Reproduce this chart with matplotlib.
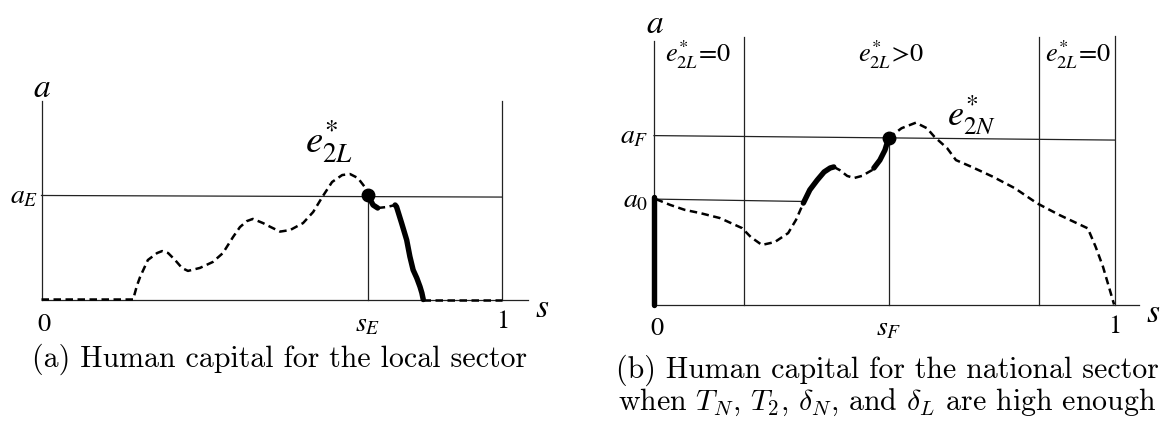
import matplotlib
matplotlib.use('Agg')
import matplotlib.pyplot as plt

# ---- data (s on [0, 1], a scaled to axis height) ----
# panel (a): local sector
local_dash1_s = [0, 0.199, 0.207, 0.214, 0.231, 0.251, 0.262, 0.275, 0.290, 0.305, 0.318,
                 0.344, 0.372, 0.394, 0.416, 0.431, 0.446, 0.459, 0.481, 0.496, 0.518,
                 0.540, 0.568, 0.590, 0.611, 0.631, 0.653, 0.670, 0.687, 0.702, 0.709]
local_dash1_a = [0, 0, 0.068, 0.113, 0.199, 0.234, 0.244, 0.234, 0.199, 0.159, 0.144,
                 0.159, 0.189, 0.234, 0.315, 0.365, 0.395, 0.406, 0.385, 0.367, 0.342,
                 0.350, 0.385, 0.441, 0.521, 0.592, 0.627, 0.632, 0.612, 0.567, 0.526]
local_thick1_s = [0.709, 0.720, 0.730]
local_thick1_a = [0.526, 0.476, 0.461]
local_dash2_s = [0.730, 0.750, 0.768]
local_dash2_a = [0.461, 0.466, 0.476]
local_thick2_s = [0.768, 0.771, 0.782, 0.793, 0.800, 0.807, 0.815, 0.822, 0.826, 0.829]
local_thick2_a = [0.476, 0.467, 0.385, 0.300, 0.216, 0.149, 0.108, 0.064, 0.033, 0.0]
local_dash3_s = [0.829, 1.0]
local_dash3_a = [0.0, 0.0]
a_E = [0.524, 0.516]
s_E = 0.709

# panel (b): national sector
nat_thick0_s = [0, 0]
nat_thick0_a = [0, 0.408]
nat_dash1_s = [0.004, 0.035, 0.067, 0.100, 0.143, 0.191, 0.210, 0.234, 0.262, 0.291, 0.308, 0.324]
nat_dash1_a = [0.400, 0.378, 0.359, 0.347, 0.328, 0.290, 0.256, 0.226, 0.237, 0.271, 0.321, 0.385]
nat_thick1_s = [0.324, 0.338, 0.354, 0.369, 0.382, 0.390]
nat_thick1_a = [0.385, 0.435, 0.472, 0.503, 0.518, 0.522]
nat_dash2_s = [0.390, 0.403, 0.419, 0.434, 0.451, 0.473, 0.477]
nat_dash2_a = [0.522, 0.510, 0.488, 0.480, 0.488, 0.510, 0.518]
nat_thick2_s = [0.477, 0.490, 0.501, 0.509]
nat_thick2_a = [0.518, 0.548, 0.586, 0.632]
nat_dash3_s = [0.509, 0.537, 0.568, 0.592, 0.608, 0.636, 0.655, 0.688, 0.735, 0.783,
               0.831, 0.879, 0.941, 0.958, 0.974, 0.998]
nat_dash3_a = [0.632, 0.669, 0.690, 0.669, 0.637, 0.593, 0.548, 0.523, 0.485, 0.441,
               0.384, 0.340, 0.289, 0.219, 0.143, 0.0]
a_F = [0.641, 0.624]
a_0 = [0.400, 0.391]
a_0_end = 0.324
s_F = 0.509
nat_bounds = [0.195, 0.836]
region_labels = [r'$e^{*}_{2L}\!=\!0$', r'$e^{*}_{2L}\!>\!0$', r'$e^{*}_{2L}\!=\!0$']
region_pos = [0.024, 0.514, 0.92]

caption_a = '(a) Human capital for the local sector'
caption_b = ('(b) Human capital for the national sector\n'
             r'when $T_N$, $T_2$, $\delta_N$, and $\delta_L$ are high enough')

W, H = 1164, 423
fig = plt.figure(figsize=(W / 100, H / 100), dpi=100)

thin = dict(color='#222222', lw=0.9, clip_on=False)
dash = dict(color='black', lw=1.8, dashes=(3.0, 1.8), clip_on=False)
thick = dict(color='black', lw=3.9, solid_capstyle='round', clip_on=False)


def lab(ax, s, a, txt, size, ha='center', va='center'):
    ax.text(s, a, txt, fontsize=size, ha=ha, va=va, math_fontfamily='stix', clip_on=False)


# ---- panel (a) ----
ax1 = fig.add_axes([41.5 / W, (H - 299.5) / H, 460.5 / W, 198.5 / H])
ax1.set_xlim(0, 1)
ax1.set_ylim(0, 1)
ax1.axis('off')
ax1.plot([0, 0], [0, 1], **thin)
ax1.plot([1, 1], [0, 1], **thin)
ax1.plot([0, 1.056], [0, 0], **thin)
ax1.plot([0, 1], a_E, **thin)
ax1.plot([s_E, s_E], [0, a_E[0]], **thin)
ax1.plot(local_dash1_s, local_dash1_a, **dash)
ax1.plot(local_dash2_s, local_dash2_a, **dash)
ax1.plot(local_dash3_s, local_dash3_a, **dash)
ax1.plot(local_thick1_s, local_thick1_a, **thick)
ax1.plot(local_thick2_s, local_thick2_a, **thick)
ax1.plot([s_E], [a_E[0]], 'o', color='black', ms=9, clip_on=False)

lab(ax1, 0.0, 1.07, r'$a$', 24)
lab(ax1, -0.008, 0.524, r'$a_E$', 20, ha='right')
lab(ax1, 0.573, 0.738, r'$e^{*}_{2L}$', 28, ha='left', va='baseline')
lab(ax1, 0.005, -0.125, '$0$', 19)
lab(ax1, s_E, -0.05, r'$s_E$', 20, va='top')
lab(ax1, 1.0, -0.11, '$1$', 19)
lab(ax1, 1.087, -0.04, r'$s$', 24)

# ---- panel (b) ----
ax2 = fig.add_axes([654 / W, (H - 304.5) / H, 461 / W, 263.5 / H])
ax2.set_xlim(0, 1)
ax2.set_ylim(0, 1)
ax2.axis('off')
ax2.plot([0, 0], [0, 1], **thin)
ax2.plot([1, 1], [0, 1.02], **thin)
for b in nat_bounds:
    ax2.plot([b, b], [0, 1.015], **thin)
ax2.plot([s_F, s_F], [0, a_F[0] - 0.01], **thin)
ax2.plot([0, 1.052], [0, 0], **thin)
ax2.plot([0, 1], a_F, **thin)
ax2.plot([0, a_0_end], a_0, **thin)
ax2.plot(nat_dash1_s, nat_dash1_a, **dash)
ax2.plot(nat_dash2_s, nat_dash2_a, **dash)
ax2.plot(nat_dash3_s, nat_dash3_a, **dash)
ax2.plot(nat_thick0_s, nat_thick0_a, **thick)
ax2.plot(nat_thick1_s, nat_thick1_a, **thick)
ax2.plot(nat_thick2_s, nat_thick2_a, **thick)
ax2.plot([s_F], [nat_thick2_a[-1]], 'o', color='black', ms=9, clip_on=False)

lab(ax2, 0.002, 1.068, r'$a$', 24)
lab(ax2, -0.013, 0.643, r'$a_F$', 20, ha='right')
lab(ax2, -0.013, 0.40, r'$a_0$', 20, ha='right')
for txt, x in zip(region_labels, region_pos):
    lab(ax2, x, 0.947, txt, 19, ha='left' if x < 0.1 else 'center')
lab(ax2, 0.636, 0.719, r'$e^{*}_{2N}$', 26, ha='left')
lab(ax2, 0.0065, -0.09, '$0$', 19)
lab(ax2, s_F, -0.032, r'$s_F$', 20, va='top')
lab(ax2, 0.998, -0.08, '$1$', 19)
lab(ax2, 1.082, -0.03, r'$s$', 24)

# ---- captions ----
fig.text(280 / W, 1 - 359 / H, caption_a, ha='center', va='center',
         fontsize=21.5, family='cmr10', math_fontfamily='cm')
fig.text(887 / W, 1 - 386 / H, caption_b, ha='center', va='center',
         fontsize=21.5, family='cmr10', math_fontfamily='cm', linespacing=1.05)

fig.savefig('out.png', dpi=100)
